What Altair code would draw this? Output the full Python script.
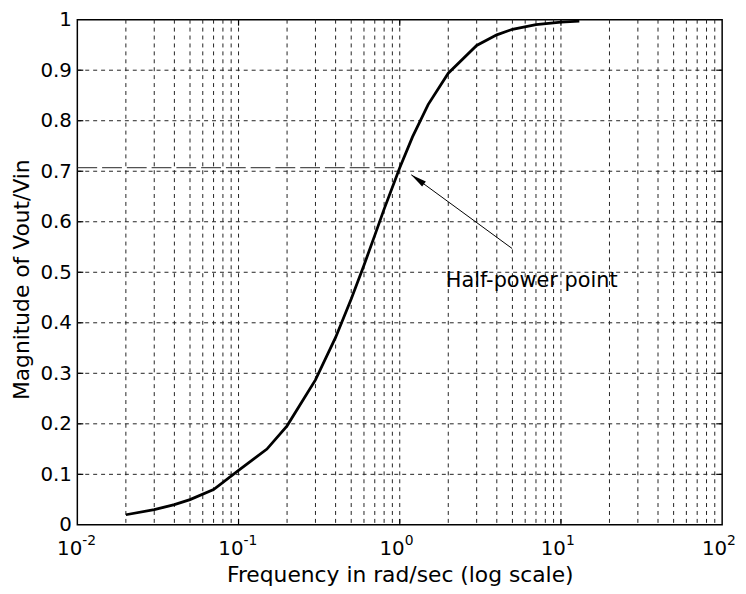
import altair as alt
import pandas as pd

# curve
freq = [0.02, 0.03, 0.04, 0.05, 0.07, 0.1, 0.15, 0.2, 0.3, 0.4, 0.5, 0.6, 0.7, 0.8,
        1.0, 1.2, 1.5, 2.0, 3.0, 4.0, 5.0, 7.0, 10.0, 13.0]
mag = [0.02, 0.03, 0.04, 0.05, 0.07, 0.108, 0.15, 0.196, 0.287, 0.371, 0.447, 0.514,
       0.573, 0.625, 0.707, 0.768, 0.832, 0.894, 0.949, 0.970, 0.981, 0.990, 0.995, 0.997]

# half-power reference line
hp_x = [0.01, 1.0]
hp_y = 0.707

# annotation
ann_text = "Half-power point"
ann_text_x = 1.93
ann_text_y = 0.482
arrow_tail = (4.98, 0.547)
arrow_head = (1.18, 0.693)
arrow_head_center = (1.29, 0.684)

# axes
x_decades = [0.01, 0.1, 1, 10, 100]
x_exps = ["-2", "-1", "0", "1", "2"]
x_grid = [m * d for d in [0.01, 0.1, 1, 10] for m in range(2, 10)]
y_ticks = [round(i * 0.1, 1) for i in range(11)]

W, H = 651, 510
FONT = "DejaVu Sans"

xs = alt.Scale(type="log", domain=[0.01, 100], nice=False)
ys = alt.Scale(domain=[0, 1], nice=False, zero=False)

curve_df = pd.DataFrame({"f": freq, "m": mag})

grid_x = alt.Chart(pd.DataFrame({"g": x_grid + x_decades[1:-1]})).mark_rule(
    color="#222", strokeWidth=1, strokeDash=[4, 4]
).encode(x=alt.X("g:Q", scale=xs), y=alt.value(0), y2=alt.value(H))

grid_y = alt.Chart(pd.DataFrame({"g": y_ticks[1:-1]})).mark_rule(
    color="#222", strokeWidth=1, strokeDash=[4, 4]
).encode(y=alt.Y("g:Q", scale=ys), x=alt.value(0), x2=alt.value(W))

# inward ticks
dec_df = pd.DataFrame({"g": x_decades[1:-1]})
tick_b = alt.Chart(dec_df).mark_rule(color="black", strokeWidth=1.2).encode(
    x=alt.X("g:Q", scale=xs), y=alt.value(H), y2=alt.value(H - 6))
tick_t = alt.Chart(dec_df).mark_rule(color="black", strokeWidth=1.2).encode(
    x=alt.X("g:Q", scale=xs), y=alt.value(0), y2=alt.value(6))
yt_df = pd.DataFrame({"g": y_ticks[1:-1]})
tick_l = alt.Chart(yt_df).mark_rule(color="black", strokeWidth=1.2).encode(
    y=alt.Y("g:Q", scale=ys), x=alt.value(0), x2=alt.value(6))
tick_r = alt.Chart(yt_df).mark_rule(color="black", strokeWidth=1.2).encode(
    y=alt.Y("g:Q", scale=ys), x=alt.value(W), x2=alt.value(W - 6))

base_axes = alt.Chart(curve_df).mark_line(color="black", strokeWidth=2.8).encode(
    x=alt.X("f:Q", scale=xs,
            axis=alt.Axis(labels=False, ticks=False, grid=False, domain=False,
                          title="Frequency in rad/sec (log scale)",
                          titleFont=FONT, titleFontSize=22, titleFontWeight="normal",
                          titleColor="black", titleBaseline="alphabetic", titleY=57)),
    y=alt.Y("m:Q", scale=ys,
            axis=alt.Axis(values=y_ticks,
                          labelExpr="datum.value == 0 ? '0' : datum.value == 1 ? '1' : format(datum.value, '.1f')",
                          labelFont=FONT, labelFontSize=20, labelColor="black",
                          labelPadding=6, ticks=False, grid=False, domain=False,
                          title="Magnitude of Vout/Vin",
                          titleFont=FONT, titleFontSize=22, titleFontWeight="normal",
                          titleColor="black", titleBaseline="alphabetic", titleX=-49,
                          titleY=262, titleAlign="center")),
)

hp_df = pd.DataFrame({"x": [hp_x[0]], "x2": [hp_x[1]], "y": [hp_y]})
hp_line = alt.Chart(hp_df).mark_rule(color="#222", strokeWidth=1, strokeDash=[20, 5]).encode(
    x=alt.X("x:Q", scale=xs), x2="x2:Q", y=alt.Y("y:Q", scale=ys)
)

arrow_df = pd.DataFrame({"x": [arrow_tail[0]], "y": [arrow_tail[1]],
                         "x2": [arrow_head[0]], "y2": [arrow_head[1]]})
arrow_line = alt.Chart(arrow_df).mark_rule(color="black", strokeWidth=1).encode(
    x=alt.X("x:Q", scale=xs), y=alt.Y("y:Q", scale=ys), x2="x2:Q", y2="y2:Q"
)
head_df = pd.DataFrame({"x": [arrow_head_center[0]], "y": [arrow_head_center[1]]})
arrow_head_mk = alt.Chart(head_df).mark_point(
    shape="M0,-1L-0.4,1L0.4,1Z", filled=True, color="black", size=256, angle=306, opacity=1
).encode(x=alt.X("x:Q", scale=xs), y=alt.Y("y:Q", scale=ys))

ann_df = pd.DataFrame({"x": [ann_text_x], "y": [ann_text_y], "t": [ann_text]})
ann = alt.Chart(ann_df).mark_text(align="left", baseline="middle", font=FONT,
                                  fontSize=21, color="black").encode(
    x=alt.X("x:Q", scale=xs), y=alt.Y("y:Q", scale=ys), text="t:N"
)

lab_df = pd.DataFrame({"x": x_decades, "e": x_exps, "b": ["10"] * 5})
lab_base = alt.Chart(lab_df).mark_text(align="right", baseline="alphabetic", font=FONT,
                                       fontSize=20, color="black", dx=5).encode(
    x=alt.X("x:Q", scale=xs), y=alt.value(H + 30), text="b:N"
)
lab_exp = alt.Chart(lab_df).mark_text(align="left", baseline="alphabetic", font=FONT,
                                      fontSize=14, color="black", dx=5).encode(
    x=alt.X("x:Q", scale=xs), y=alt.value(H + 20), text="e:N"
)

chart = alt.layer(grid_x, grid_y, tick_b, tick_t, tick_l, tick_r, hp_line, base_axes,
                  arrow_line, arrow_head_mk, ann, lab_base, lab_exp).properties(
    width=W, height=H,
    autosize=alt.AutoSizeParams(type="none"),
    padding={"left": 70, "top": 9, "right": 16, "bottom": 66},
    background="white",
).configure_view(stroke="black", strokeWidth=1.5)

chart.save("out.html", embed_options={"renderer": "svg", "actions": False})
